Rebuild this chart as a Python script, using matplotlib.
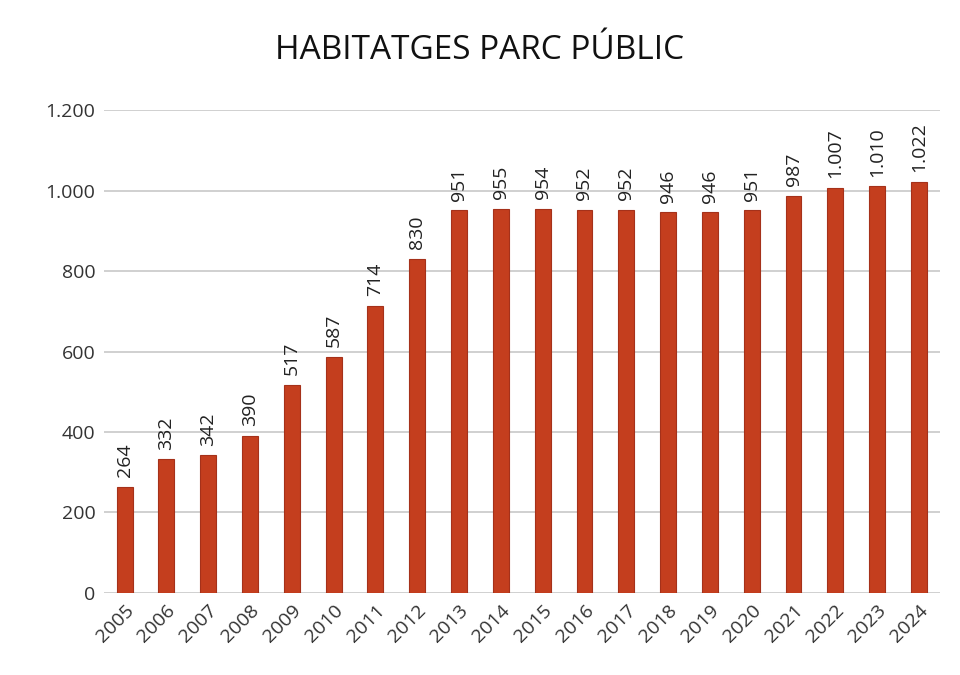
import matplotlib.pyplot as plt
from matplotlib.ticker import FuncFormatter

years = [str(y) for y in range(2005, 2025)]
habitatges = [264, 332, 342, 390, 517, 587, 714, 830, 951, 955,
              954, 952, 952, 946, 946, 951, 987, 1007, 1010, 1022]

plt.rcParams['font.family'] = ['Open Sans', 'DejaVu Sans']


def punt_milers(v, pos=None):
    # format catala: 1.200
    return f"{int(v):,}".replace(",", ".")


fig = plt.figure(figsize=(9.6, 6.75), dpi=100)
ax = fig.add_axes([0.108, 0.1215, 0.871, 0.7155])

bars = ax.bar(years, habitatges, width=0.38, color="#C43E1E",
              edgecolor="#A5311A", linewidth=0.8, zorder=3)

# etiquetes de valor en vertical
for bar, v in zip(bars, habitatges):
    ax.annotate(punt_milers(v), (bar.get_x() + bar.get_width() / 2, v),
                xytext=(0, 7), textcoords="offset points",
                ha="center", va="bottom", rotation=90, fontsize=14,
                color="#222222")

ax.set_ylim(0, 1200)
ax.set_xlim(-0.5, len(years) - 0.5)
ax.set_yticks(range(0, 1201, 200))
ax.yaxis.set_major_formatter(FuncFormatter(punt_milers))
ax.grid(axis="y", color="#C8C8C8", linewidth=1.2, zorder=0)
for s in ax.spines.values():
    s.set_visible(False)
ax.tick_params(axis="both", length=0, labelsize=14, colors="#333333")
ax.tick_params(axis="y", pad=6)
ax.tick_params(axis="x", pad=6)
plt.setp(ax.get_xticklabels(), rotation=45, ha="right", rotation_mode="anchor")

fig.text(0.5, 0.925, "HABITATGES PARC PÚBLIC", ha="center", va="center",
         fontsize=24, color="#111111",
         family=['Liberation Sans Narrow', 'Open Sans', 'DejaVu Sans'])

fig.savefig("out.png", dpi=100)
